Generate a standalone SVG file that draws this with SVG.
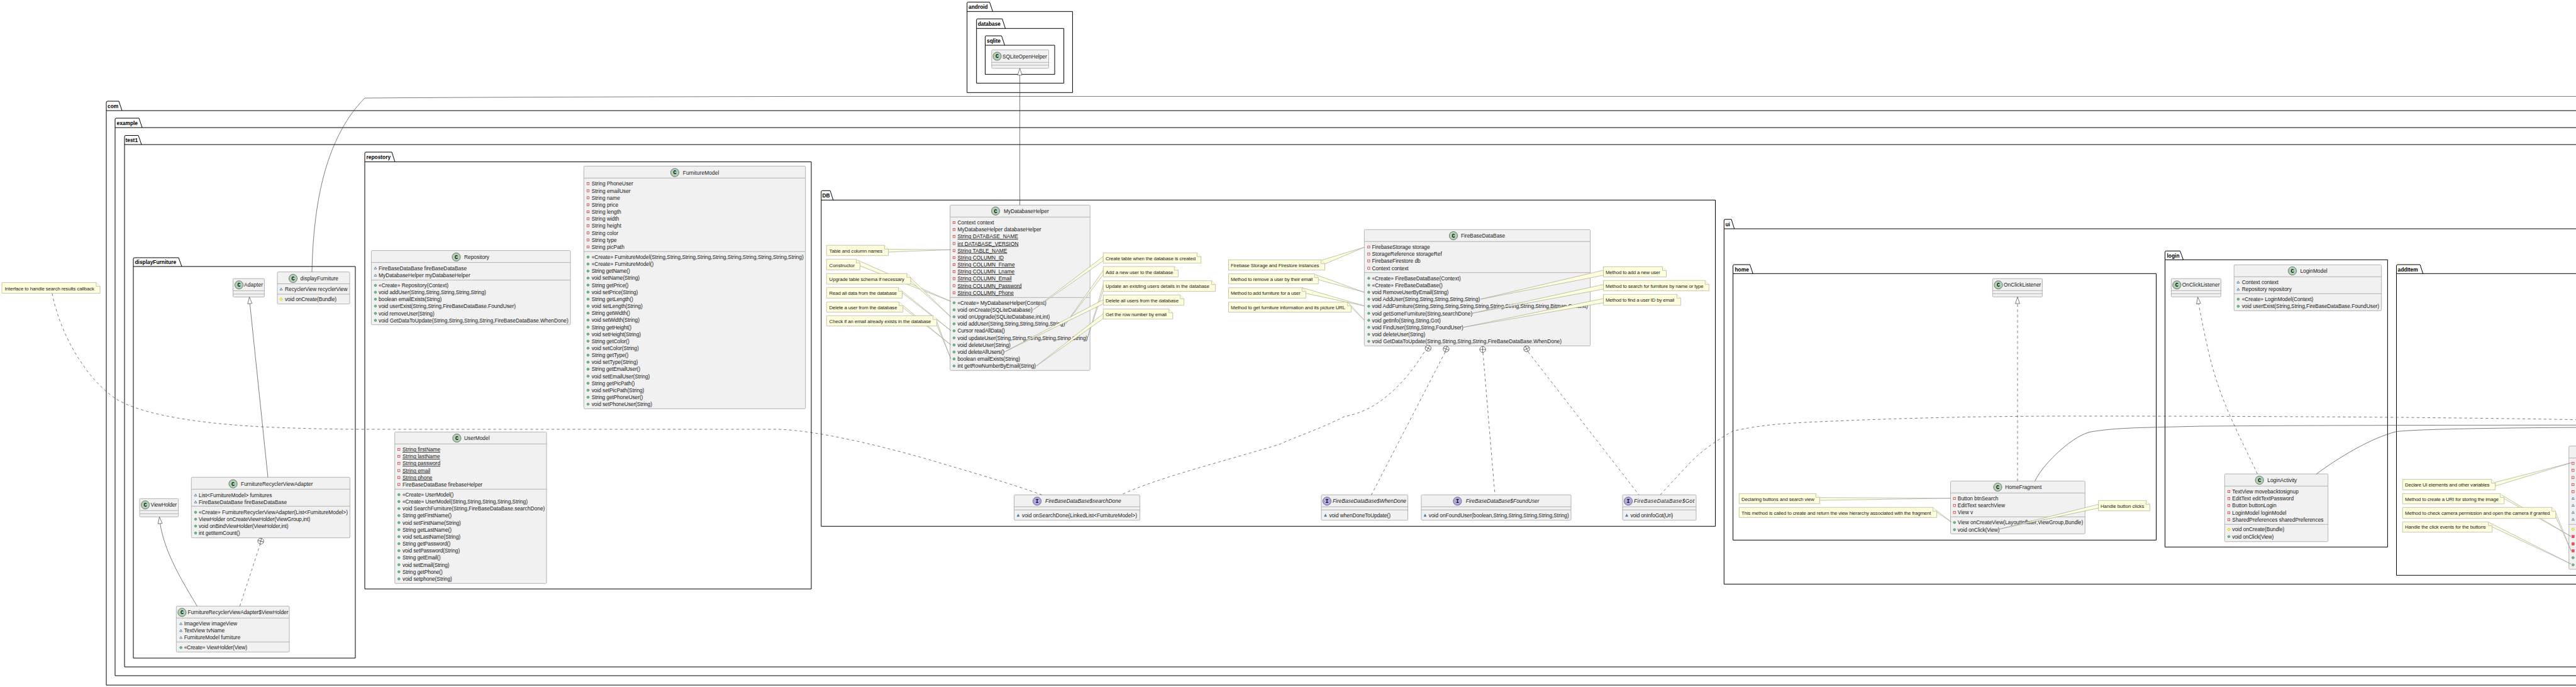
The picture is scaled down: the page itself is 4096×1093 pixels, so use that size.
<svg xmlns="http://www.w3.org/2000/svg" width="4096" height="1093" viewBox="0 0 4096 1093">
<style>
text{font-family:"Liberation Sans",Arial,sans-serif;font-size:8.4px;fill:#181818}
.b{font-weight:bold;fill:#000}
.i{font-style:italic}
.u{text-decoration:underline}
.nt{font-size:7.8px}
.pk{fill:none;stroke:#000;stroke-width:1}
.box{fill:#F1F1F1;stroke:#ABABAB;stroke-width:.9}
.div{fill:none;stroke:#ABABAB;stroke-width:.9}
.note{fill:#FEFFDD;stroke:#B5B5A5;stroke-width:.8}
.wedge{fill:#FEFFDD;stroke:#8E8E80;stroke-width:.55;stroke-linejoin:bevel}
.ln{fill:none;stroke:#333;stroke-width:.65}
.ds{fill:none;stroke:#333;stroke-width:.65;stroke-dasharray:4.2 4.2}
.hd{fill:#fff;stroke:#333;stroke-width:.65}
.cc{fill:#ADD1B2;stroke:#333;stroke-width:.6}
.ci{fill:#B4A7E5;stroke:#333;stroke-width:.6}
.ct{font-family:"Liberation Mono",monospace;font-weight:bold;font-size:8.4px;text-anchor:middle;fill:#000}
</style>
<defs>
<rect id="pf" x="-1.7" y="-1.7" width="3.4" height="3.4" fill="none" stroke="#C82930" stroke-width=".7"/>
<rect id="pm" x="-2" y="-2" width="4" height="4" fill="#F24D5C" stroke="#C82930" stroke-width=".4"/>
<polygon id="pk" points="0,-1.9 2,1.5 -2,1.5" fill="none" stroke="#1963A0" stroke-width=".7"/>
<polygon id="pkm" points="0,-2.2 2,1.7 -2,1.7" fill="#4177AF" stroke="#1963A0" stroke-width=".4"/>
<polygon id="pr" points="0,-2.4 2.4,0 0,2.4 -2.4,0" fill="#FFFF44" stroke="#B38D22" stroke-width=".5"/>
<circle id="pu" r="1.8" fill="#84BE84" stroke="#038048" stroke-width=".6"/>
<g id="nest"><circle r="4.7" class="hd" fill="#fff"/><path d="M-4.7,0H4.7M0,-4.7V4.7" class="ln"/></g>
</defs>
<rect width="4096" height="1093" fill="#fff"/>
<g id="packages">
<g id="pkg-android"><path class="pk" d="M1537.7,18.3V5Q1537.7,3.3 1539.4,3.3H1573.5L1578.5,18.3M1537.7,18.3H1705.4V147.3H1537.7Z"/><text class="b" x="1540" y="14">android</text></g>
<g id="pkg-database"><path class="pk" d="M1552.7,45.3V32Q1552.7,30 1554.4,30H1593.6L1598.6,45.3M1552.7,45.3H1691.6V132.3H1552.7Z"/><text class="b" x="1554.7" y="41">database</text></g>
<g id="pkg-sqlite"><path class="pk" d="M1566.5,72V59Q1566.5,57 1568.2,57H1592.5L1597.5,72M1566.5,72H1677V118.3H1566.5Z"/><text class="b" x="1569" y="68">sqlite</text></g>
<g id="pkg-com"><path class="pk" d="M169,176V163Q169,161 171,161H189L194,176M169,176H4110V1090H169Z"/><text class="b" x="171" y="172">com</text></g>
<g id="pkg-example"><path class="pk" d="M183,203V190Q183,188 185,188H221L226,203M183,203H4110V1075H183Z"/><text class="b" x="185.5" y="199">example</text></g>
<g id="pkg-test"><path class="pk" d="M198,230V217.5Q198,215.5 200,215.5H220L225,230M198,230H4110V1061H198Z"/><text class="b" x="199.5" y="226">test1</text></g>
<g id="pkg-displayFurniture"><path class="pk" d="M212,424V412Q212,410 214,410H284L289,424M212,424H565V1047H212Z"/><text class="b" x="214.5" y="420">displayFurniture</text></g>
<g id="pkg-repostory"><path class="pk" d="M580,257.5V244Q580,242 582,242H623L628,257.5M580,257.5H1290V937H580Z"/><text class="b" x="582.5" y="253">repostory</text></g>
<g id="pkg-DB"><path class="pk" d="M1305.8,318.3V305Q1305.8,303.3 1307.5,303.3H1320L1324.8,318.3M1305.8,318.3H2727.5V837.3H1305.8Z"/><text class="b" x="1307.5" y="314">DB</text></g>
<g id="pkg-ui"><path class="pk" d="M2741.3,364V351Q2741.3,349 2743,349H2753L2757.7,364M2741.3,364H4110V929.3H2741.3Z"/><text class="b" x="2743.5" y="360">ui</text></g>
<g id="pkg-home"><path class="pk" d="M2755.6,435.3V423Q2755.6,421 2757.5,421H2782.5L2787.2,435.3M2755.6,435.3H3428.5V859.3H2755.6Z"/><text class="b" x="2758.5" y="432">home</text></g>
<g id="pkg-login"><path class="pk" d="M3442.5,413.3V401Q3442.5,399.3 3444.5,399.3H3466.5L3471.5,413.3M3442.5,413.3H3796.4V870.3H3442.5Z"/><text class="b" x="3445.5" y="410">login</text></g>
<g id="pkg-addItem"><path class="pk" d="M3810.5,435.3V423Q3810.5,421 3812.5,421H3848L3852.7,435.3M3810.5,435.3H4110V915.3H3810.5Z"/><text class="b" x="3812.5" y="432">addItem</text></g>
</g>

<g id="node-SQLiteOpenHelper"><rect class="box" x="1576.8" y="79.3" width="90.7" height="29.4" rx="1.5"/><path class="div" d="M1576.8,99.3H1667.5M1576.8,103.7H1667.5"/><circle class="cc" cx="1585.5" cy="89.5" r="6.6"/><text class="ct" x="1585.5" y="92.3">C</text><text x="1594" y="92.5">SQLiteOpenHelper</text></g>

<g id="node-displayFurniture"><rect class="box" x="441" y="432.6" width="115" height="51" rx="1.5"/><path class="div" d="M441,451.5H556M441,468H556"/><circle class="cc" cx="466" cy="443" r="6.6"/><text class="ct" x="466" y="445.8">C</text><text x="477.6" y="445.5" textLength="60.4">displayFurniture</text><use href="#pk" x="447" y="460"/><text x="453" y="463" textLength="99.5">RecyclerView recyclerView</text><use href="#pr" x="447" y="476"/><text x="453" y="479" textLength="82">void onCreate(Bundle)</text></g>

<g id="node-Adapter"><rect class="box" x="370.6" y="443.3" width="49.8" height="29.2" rx="1.5"/><path class="div" d="M370.6,462.6H420.4M370.6,467.8H420.4"/><circle class="cc" cx="380" cy="453.3" r="6.6"/><text class="ct" x="380" y="456.1">C</text><text x="388" y="456.3" textLength="30">Adapter</text></g>

<g id="node-FurnitureRecyclerViewAdapter"><rect class="box" x="304.3" y="759.3" width="252.1" height="96.4" rx="1.5"/><path class="div" d="M304.3,778.3H556.4M304.3,805.3H556.4"/><circle class="cc" cx="370.6" cy="769.7" r="6.6"/><text class="ct" x="370.6" y="772.5">C</text><text x="383" y="772.7" textLength="114.5">FurnitureRecyclerViewAdapter</text><use href="#pk" x="311" y="787.7"/><text x="316" y="790.7">List&lt;FurnitureModel&gt; furnitures</text><use href="#pk" x="311" y="798.7"/><text x="316" y="801.7">FireBaseDataBase fireBaseDataBase</text><use href="#pu" x="311" y="815"/><text x="316" y="818" textLength="237">«Create» FurnitureRecyclerViewAdapter(List&lt;FurnitureModel&gt;)</text><use href="#pu" x="311" y="826"/><text x="316" y="829" textLength="177.4">ViewHolder onCreateViewHolder(ViewGroup,int)</text><use href="#pu" x="311" y="837"/><text x="316" y="840" textLength="142.6">void onBindViewHolder(ViewHolder,int)</text><use href="#pu" x="311" y="848"/><text x="316" y="851" textLength="65.5">int getItemCount()</text></g>

<g id="node-ViewHolder"><rect class="box" x="222" y="793.3" width="61.6" height="29" rx="1.5"/><path class="div" d="M222,812.3H283.6M222,817.3H283.6"/><circle class="cc" cx="231" cy="803.3" r="6.6"/><text class="ct" x="231" y="806.1">C</text><text x="239.6" y="806.3" textLength="41.4">ViewHolder</text></g>

<g id="node-FurnitureRecyclerViewAdapter-ViewHolder"><rect class="box" x="280.3" y="964.3" width="179.7" height="73" rx="1.5"/><path class="div" d="M280.3,983.3H460M280.3,1021.3H460"/><circle class="cc" cx="289.4" cy="974.3" r="6.6"/><text class="ct" x="289.4" y="977.1">C</text><text x="298.5" y="977.3" textLength="160">FurnitureRecyclerViewAdapter$ViewHolder</text><use href="#pk" x="287.7" y="992.3"/><text x="292.7" y="995.3">ImageView imageView</text><use href="#pk" x="287.7" y="1003.3"/><text x="292.7" y="1006.3">TextView tvName</text><use href="#pk" x="287.7" y="1014.3"/><text x="292.7" y="1017.3">FurnitureModel furniture</text><use href="#pu" x="287.7" y="1030.3"/><text x="292.7" y="1033.3" textLength="100.3">«Create» ViewHolder(View)</text></g>

<g id="node-Repository"><rect class="box" x="590.4" y="398.6" width="316.6" height="118" rx="1.5"/><path class="div" d="M590.4,417.6H907M590.4,445.6H907"/><circle class="cc" cx="725.5" cy="408.9" r="6.6"/><text class="ct" x="725.5" y="411.7">C</text><text x="738" y="411.9">Repository</text><use href="#pk" x="597" y="426.6"/><text x="602" y="429.6">FireBaseDataBase fireBaseDataBase</text><use href="#pk" x="597" y="438"/><text x="602" y="441">MyDatabaseHelper myDatabaseHelper</text><use href="#pu" x="597" y="454"/><text x="602" y="457" textLength="111">«Create» Repository(Context)</text><use href="#pu" x="597" y="465"/><text x="602" y="468" textLength="170.8">void addUser(String,String,String,String,String)</text><use href="#pu" x="597" y="476"/><text x="602" y="479" textLength="100.3">boolean emailExists(String)</text><use href="#pu" x="597" y="487"/><text x="602" y="490" textLength="218">void userExist(String,String,FireBaseDataBase.FoundUser)</text><use href="#pu" x="597" y="498.6"/><text x="602" y="501.6" textLength="88.7">void removeUser(String)</text><use href="#pu" x="597" y="509.7"/><text x="602" y="512.7" textLength="301.8">void GetDataToUpdate(String,String,String,String,FireBaseDataBase.WhenDone)</text></g>

<g id="node-FurnitureModel"><rect class="box" x="928.3" y="264.3" width="352.4" height="386" rx="1.5"/><path class="div" d="M928.3,283.3H1280.7M928.3,400.3H1280.7"/><circle class="cc" cx="1073" cy="274.5" r="6.6"/><text class="ct" x="1073" y="277.3">C</text><text x="1085.7" y="277.5" textLength="57.7">FurnitureModel</text>
<use href="#pf" x="935" y="292.3"/><text x="940.7" y="295.3">String PhoneUser</text>
<use href="#pf" x="935" y="303.5"/><text x="940.7" y="306.5">String emailUser</text>
<use href="#pf" x="935" y="314.6"/><text x="940.7" y="317.6">String name</text>
<use href="#pf" x="935" y="325.8"/><text x="940.7" y="328.8">String price</text>
<use href="#pf" x="935" y="337"/><text x="940.7" y="340">String length</text>
<use href="#pf" x="935" y="348.2"/><text x="940.7" y="351.2">String width</text>
<use href="#pf" x="935" y="359.3"/><text x="940.7" y="362.3">String height</text>
<use href="#pf" x="935" y="370.5"/><text x="940.7" y="373.5">String color</text>
<use href="#pf" x="935" y="381.7"/><text x="940.7" y="384.7">String type</text>
<use href="#pf" x="935" y="392.9"/><text x="940.7" y="395.9">String picPath</text>
<use href="#pu" x="935" y="409"/><text x="940.7" y="412" textLength="337">«Create» FurnitureModel(String,String,String,String,String,String,String,String,String,String)</text>
<use href="#pu" x="935" y="420.1"/><text x="940.7" y="423.1" textLength="98.7">«Create» FurnitureModel()</text>
<use href="#pu" x="935" y="431.3"/><text x="940.7" y="434.3" textLength="61">String getName()</text>
<use href="#pu" x="935" y="442.4"/><text x="940.7" y="445.4" textLength="76.3">void setName(String)</text>
<use href="#pu" x="935" y="453.6"/><text x="940.7" y="456.6" textLength="58.7">String getPrice()</text>
<use href="#pu" x="935" y="464.7"/><text x="940.7" y="467.7" textLength="73.7">void setPrice(String)</text>
<use href="#pu" x="935" y="475.9"/><text x="940.7" y="478.9" textLength="66">String getLength()</text>
<use href="#pu" x="935" y="487"/><text x="940.7" y="490" textLength="81">void setLength(String)</text>
<use href="#pu" x="935" y="498.2"/><text x="940.7" y="501.2" textLength="61">String getWidth()</text>
<use href="#pu" x="935" y="509.3"/><text x="940.7" y="512.3" textLength="76.3">void setWidth(String)</text>
<use href="#pu" x="935" y="520.5"/><text x="940.7" y="523.5" textLength="63.3">String getHeight()</text>
<use href="#pu" x="935" y="531.6"/><text x="940.7" y="534.6" textLength="78.3">void setHeight(String)</text>
<use href="#pu" x="935" y="542.8"/><text x="940.7" y="545.8" textLength="60">String getColor()</text>
<use href="#pu" x="935" y="553.9"/><text x="940.7" y="556.9" textLength="75">void setColor(String)</text>
<use href="#pu" x="935" y="565.1"/><text x="940.7" y="568.1" textLength="58.7">String getType()</text>
<use href="#pu" x="935" y="576.2"/><text x="940.7" y="579.2" textLength="73.7">void setType(String)</text>
<use href="#pu" x="935" y="587.4"/><text x="940.7" y="590.4" textLength="77.3">String getEmailUser()</text>
<use href="#pu" x="935" y="598.5"/><text x="940.7" y="601.5" textLength="92.7">void setEmailUser(String)</text>
<use href="#pu" x="935" y="609.7"/><text x="940.7" y="612.7" textLength="68.7">String getPicPath()</text>
<use href="#pu" x="935" y="620.8"/><text x="940.7" y="623.8" textLength="83.7">void setPicPath(String)</text>
<use href="#pu" x="935" y="632"/><text x="940.7" y="635" textLength="81.7">String getPhoneUser()</text>
<use href="#pu" x="935" y="643.1"/><text x="940.7" y="646.1" textLength="96.3">void setPhoneUser(String)</text></g>

<g id="node-UserModel"><rect class="box" x="627.7" y="687.3" width="241.3" height="241" rx="1.5"/><path class="div" d="M627.7,706.3H869M627.7,778.3H869"/><circle class="cc" cx="726.4" cy="697" r="6.6"/><text class="ct" x="726.4" y="699.8">C</text><text x="738" y="700">UserModel</text>
<use href="#pf" x="634.3" y="715"/><text class="u" x="640" y="718">String firstName</text>
<use href="#pf" x="634.3" y="726"/><text class="u" x="640" y="729">String lastName</text>
<use href="#pf" x="634.3" y="737.3"/><text class="u" x="640" y="740.3">String password</text>
<use href="#pf" x="634.3" y="748.7"/><text class="u" x="640" y="751.7">String email</text>
<use href="#pf" x="634.3" y="759.7"/><text class="u" x="640" y="762.7">String phone</text>
<use href="#pf" x="634.3" y="770.7"/><text x="640" y="773.7">FireBaseDataBase firebaseHelper</text>
<use href="#pu" x="634.3" y="787"/><text x="640" y="790" textLength="81.3">«Create» UserModel()</text>
<use href="#pu" x="634.3" y="798"/><text x="640" y="801" textLength="199">«Create» UserModel(String,String,String,String,String)</text>
<use href="#pu" x="634.3" y="809.2"/><text x="640" y="812.2" textLength="226.4">void SearchFurniture(String,FireBaseDataBase.searchDone)</text>
<use href="#pu" x="634.3" y="820.3"/><text x="640" y="823.3" textLength="78">String getFirstName()</text>
<use href="#pu" x="634.3" y="831.5"/><text x="640" y="834.5" textLength="92.9">void setFirstName(String)</text>
<use href="#pu" x="634.3" y="842.7"/><text x="640" y="845.7" textLength="78">String getLastName()</text>
<use href="#pu" x="634.3" y="853.8"/><text x="640" y="856.8" textLength="92">void setLastName(String)</text>
<use href="#pu" x="634.3" y="865"/><text x="640" y="868" textLength="76.3">String getPassword()</text>
<use href="#pu" x="634.3" y="876.2"/><text x="640" y="879.2" textLength="91.2">void setPassword(String)</text>
<use href="#pu" x="634.3" y="887.3"/><text x="640" y="890.3" textLength="60.5">String getEmail()</text>
<use href="#pu" x="634.3" y="898.5"/><text x="640" y="901.5" textLength="74.6">void setEmail(String)</text>
<use href="#pu" x="634.3" y="909.7"/><text x="640" y="912.7" textLength="63.8">String getPhone()</text>
<use href="#pu" x="634.3" y="921"/><text x="640" y="924" textLength="78.8">void setphone(String)</text></g>

<g id="node-MyDatabaseHelper"><rect class="box" x="1510.7" y="326.3" width="222.5" height="263" rx="1.5"/><path class="div" d="M1510.7,345.3H1733.2M1510.7,473.3H1733.2"/><circle class="cc" cx="1583" cy="335.7" r="6.6"/><text class="ct" x="1583" y="338.5">C</text><text x="1596" y="338.7">MyDatabaseHelper</text>
<use href="#pf" x="1517" y="354"/><text x="1522.5" y="357">Context context</text>
<use href="#pf" x="1517" y="365.2"/><text x="1522.5" y="368.2">MyDatabaseHelper databaseHelper</text>
<use href="#pf" x="1517" y="376.3"/><text class="u" x="1522.5" y="379.3">String DATABASE_NAME</text>
<use href="#pf" x="1517" y="387.5"/><text class="u" x="1522.5" y="390.5">int DATABASE_VERSION</text>
<use href="#pf" x="1517" y="398.7"/><text class="u" x="1522.5" y="401.7">String TABLE_NAME</text>
<use href="#pf" x="1517" y="409.9"/><text class="u" x="1522.5" y="412.9">String COLUMN_ID</text>
<use href="#pf" x="1517" y="421"/><text class="u" x="1522.5" y="424">String COLUMN_Fname</text>
<use href="#pf" x="1517" y="432.2"/><text class="u" x="1522.5" y="435.2">String COLUMN_Lname</text>
<use href="#pf" x="1517" y="443.4"/><text class="u" x="1522.5" y="446.4">String COLUMN_Email</text>
<use href="#pf" x="1517" y="454.5"/><text class="u" x="1522.5" y="457.5">String COLUMN_Password</text>
<use href="#pf" x="1517" y="465.7"/><text class="u" x="1522.5" y="468.7">String COLUMN_Phone</text>
<use href="#pu" x="1517" y="481.7"/><text x="1522.5" y="484.7" textLength="141.4">«Create» MyDatabaseHelper(Context)</text>
<use href="#pu" x="1517" y="492.9"/><text x="1522.5" y="495.9" textLength="119.3">void onCreate(SQLiteDatabase)</text>
<use href="#pu" x="1517" y="504.1"/><text x="1522.5" y="507.1" textLength="146.8">void onUpgrade(SQLiteDatabase,int,int)</text>
<use href="#pu" x="1517" y="515.3"/><text x="1522.5" y="518.3" textLength="171">void addUser(String,String,String,String,String)</text>
<use href="#pu" x="1517" y="526.4"/><text x="1522.5" y="529.4" textLength="75.4">Cursor readAllData()</text>
<use href="#pu" x="1517" y="537.6"/><text x="1522.5" y="540.6" textLength="206.8">void updateUser(String,String,String,String,String,String)</text>
<use href="#pu" x="1517" y="548.8"/><text x="1522.5" y="551.8" textLength="84.3">void deleteUser(String)</text>
<use href="#pu" x="1517" y="560"/><text x="1522.5" y="563" textLength="74.6">void deleteAllUsers()</text>
<use href="#pu" x="1517" y="571.1"/><text x="1522.5" y="574.1" textLength="99.6">boolean emailExists(String)</text>
<use href="#pu" x="1517" y="582.3"/><text x="1522.5" y="585.3" textLength="124.6">int getRowNumberByEmail(String)</text></g>

<g id="node-FireBaseDataBase"><rect class="box" x="2169.3" y="365.3" width="359.2" height="185" rx="1.5"/><path class="div" d="M2169.3,384.3H2528.5M2169.3,433.7H2528.5"/><circle class="cc" cx="2311" cy="375" r="6.6"/><text class="ct" x="2311" y="377.8">C</text><text x="2322.9" y="378">FireBaseDataBase</text>
<use href="#pf" x="2176.4" y="393"/><text x="2181.5" y="396">FirebaseStorage storage</text>
<use href="#pf" x="2176.4" y="404.3"/><text x="2181.5" y="407.3">StorageReference storageRef</text>
<use href="#pf" x="2176.4" y="415.3"/><text x="2181.5" y="418.3">FirebaseFirestore db</text>
<use href="#pf" x="2176.4" y="426.7"/><text x="2181.5" y="429.7">Context context</text>
<use href="#pu" x="2176.4" y="442.7"/><text x="2181.5" y="445.7" textLength="141.3">«Create» FireBaseDataBase(Context)</text>
<use href="#pu" x="2176.4" y="453.7"/><text x="2181.5" y="456.7" textLength="112.2">«Create» FireBaseDataBase()</text>
<use href="#pu" x="2176.4" y="465"/><text x="2181.5" y="468" textLength="121.9">void RemoveUserByEmail(String)</text>
<use href="#pu" x="2176.4" y="476.1"/><text x="2181.5" y="479.1" textLength="171.9">void AddUser(String,String,String,String,String)</text>
<use href="#pu" x="2176.4" y="487.3"/><text x="2181.5" y="490.3" textLength="343.4">void AddFurniture(String,String,String,String,String,String,String,String,String,Bitmap,Context)</text>
<use href="#pu" x="2176.4" y="498.5"/><text x="2181.5" y="501.5" textLength="159.7">void getSomeFurniture(String,searchDone)</text>
<use href="#pu" x="2176.4" y="509.6"/><text x="2181.5" y="512.6" textLength="109.2">void getInfo(String,String,Got)</text>
<use href="#pu" x="2176.4" y="520.8"/><text x="2181.5" y="523.8" textLength="145.4">void FindUser(String,String,FoundUser)</text>
<use href="#pu" x="2176.4" y="532"/><text x="2181.5" y="535" textLength="84.7">void deleteUser(String)</text>
<use href="#pu" x="2176.4" y="543.1"/><text x="2181.5" y="546.1" textLength="301.5">void GetDataToUpdate(String,String,String,String,FireBaseDataBase.WhenDone)</text></g>

<g id="node-searchDone"><rect class="box" x="1612.6" y="787.3" width="199.8" height="40.4" rx="1.5"/><path class="div" d="M1612.6,806.3H1812.4M1612.6,811.3H1812.4"/><circle class="ci" cx="1649" cy="797.3" r="6.6"/><text class="ct" x="1649" y="800.1">I</text><text class="i" x="1662" y="800.3" textLength="120.6">FireBaseDataBase$searchDone</text><use href="#pkm" x="1619" y="820"/><text x="1625" y="823" textLength="183">void onSearchDone(LinkedList&lt;FurnitureModel&gt;)</text></g>
<g id="node-WhenDone"><rect class="box" x="2101" y="787.3" width="137.6" height="40.4" rx="1.5"/><path class="div" d="M2101,806.3H2238.6M2101,811.3H2238.6"/><circle class="ci" cx="2110" cy="797.3" r="6.6"/><text class="ct" x="2110" y="800.1">I</text><text class="i" x="2119" y="800.3" textLength="117">FireBaseDataBase$WhenDone</text><use href="#pkm" x="2107.6" y="820"/><text x="2113.4" y="823" textLength="97.6">void whenDoneToUpdate()</text></g>
<g id="node-FoundUser"><rect class="box" x="2260" y="787.3" width="238" height="40.4" rx="1.5"/><path class="div" d="M2260,806.3H2498M2260,811.3H2498"/><circle class="ci" cx="2317.4" cy="797.3" r="6.6"/><text class="ct" x="2317.4" y="800.1">I</text><text class="i" x="2330.7" y="800.3" textLength="116.9">FireBaseDataBase$FoundUser</text><use href="#pkm" x="2266" y="820"/><text x="2271.8" y="823" textLength="223">void onFoundUser(boolean,String,String,String,String,String)</text></g>
<g id="node-Got"><rect class="box" x="2580" y="787.3" width="117" height="40.4" rx="1.5"/><path class="div" d="M2580,806.3H2697M2580,811.3H2697"/><circle class="ci" cx="2589" cy="797.3" r="6.6"/><text class="ct" x="2589" y="800.1">I</text><text class="i" x="2598" y="800.3" textLength="96">FireBaseDataBase$Got</text><use href="#pkm" x="2586.6" y="820"/><text x="2592.4" y="823" textLength="68">void onInfoGot(Uri)</text></g>

<g id="node-OnClickListener-home"><rect class="box" x="3168.4" y="443.3" width="79" height="29" rx="1.5"/><path class="div" d="M3168.4,462.3H3247.4M3168.4,467.3H3247.4"/><circle class="cc" cx="3177.5" cy="453.3" r="6.6"/><text class="ct" x="3177.5" y="456.1">C</text><text x="3186" y="456.3" textLength="59.4">OnClickListener</text></g>
<g id="node-HomeFragment"><rect class="box" x="3101.5" y="765.3" width="213.8" height="84" rx="1.5"/><path class="div" d="M3101.5,784.3H3315.3M3101.5,822.3H3315.3"/><circle class="cc" cx="3176.5" cy="775" r="6.6"/><text class="ct" x="3176.5" y="777.8">C</text><text x="3188.3" y="778" textLength="58">HomeFragment</text><use href="#pf" x="3107.7" y="793"/><text x="3112.8" y="796">Button btnSearch</text><use href="#pf" x="3107.7" y="804.3"/><text x="3112.8" y="807.3">EditText searchView</text><use href="#pf" x="3107.7" y="815.3"/><text x="3112.8" y="818.3">View v</text><use href="#pu" x="3107.7" y="831.3"/><text x="3112.8" y="834.3" textLength="199.5">View onCreateView(LayoutInflater,ViewGroup,Bundle)</text><use href="#pu" x="3107.7" y="842.7"/><text x="3112.8" y="845.7" textLength="66.8">void onClick(View)</text></g>
<g id="node-OnClickListener-login"><rect class="box" x="3452.4" y="443.3" width="79" height="29" rx="1.5"/><path class="div" d="M3452.4,462.3H3531.4M3452.4,467.3H3531.4"/><circle class="cc" cx="3461.3" cy="453.3" r="6.6"/><text class="ct" x="3461.3" y="456.1">C</text><text x="3469.7" y="456.3" textLength="59.9">OnClickListener</text></g>
<g id="node-LoginModel"><rect class="box" x="3552.2" y="421.3" width="234.4" height="73" rx="1.5"/><path class="div" d="M3552.2,440.3H3786.6M3552.2,467.3H3786.6"/><circle class="cc" cx="3645" cy="431" r="6.6"/><text class="ct" x="3645" y="433.8">C</text><text x="3657.4" y="434">LoginModel</text><use href="#pk" x="3558.9" y="449"/><text x="3564.7" y="452">Context context</text><use href="#pk" x="3558.9" y="460.3"/><text x="3564.7" y="463.3">Repository repository</text><use href="#pu" x="3558.9" y="476"/><text x="3564.7" y="479" textLength="113.6">«Create» LoginModel(Context)</text><use href="#pu" x="3558.9" y="487.3"/><text x="3564.7" y="490.3" textLength="218.4">void userExist(String,String,FireBaseDataBase.FoundUser)</text></g>
<g id="node-LoginActivity"><rect class="box" x="3537.3" y="754" width="164.4" height="107.7" rx="1.5"/><path class="div" d="M3537.3,773.3H3701.7M3537.3,834.3H3701.7"/><circle class="cc" cx="3592.7" cy="764" r="6.6"/><text class="ct" x="3592.7" y="766.8">C</text><text x="3605.3" y="767">LoginActivity</text><use href="#pf" x="3544" y="782"/><text x="3549.3" y="785">TextView movebacktosignup</text><use href="#pf" x="3544" y="793.3"/><text x="3549.3" y="796.3">EditText editTextPassword</text><use href="#pf" x="3544" y="804.3"/><text x="3549.3" y="807.3">Button buttonLogin</text><use href="#pf" x="3544" y="815.7"/><text x="3549.3" y="818.7">LoginModel loginModel</text><use href="#pf" x="3544" y="826.7"/><text x="3549.3" y="829.7">SharedPreferences sharedPreferences</text><use href="#pr" x="3544" y="842.3"/><text x="3549.3" y="845.3" textLength="83">void onCreate(Bundle)</text><use href="#pu" x="3544" y="853.7"/><text x="3549.3" y="856.7" textLength="66">void onClick(View)</text></g>
<g id="node-AddItem-partial"><rect class="box" x="4084.7" y="709.7" width="30" height="196" rx="1.5"/><path class="div" d="M4084.7,728.7H4115M4084.7,834.3H4115"/><use href="#pf" x="4091.3" y="737.3"/><use href="#pf" x="4091.3" y="748.3"/><use href="#pf" x="4091.3" y="759.7"/><use href="#pf" x="4091.3" y="771"/><use href="#pf" x="4091.3" y="782.3"/><use href="#pk" x="4091.3" y="793"/><use href="#pk" x="4091.3" y="804"/><use href="#pk" x="4091.3" y="815.3"/><use href="#pk" x="4091.3" y="826.3"/><use href="#pr" x="4091.3" y="842"/><use href="#pm" x="4091.3" y="853.7"/><use href="#pm" x="4091.3" y="865.3"/><use href="#pm" x="4091.3" y="876.3"/><use href="#pu" x="4091.3" y="887.3"/><use href="#pu" x="4091.3" y="898.7"/></g>

<g id="connectors">
<path class="ln" d="M1621.6,326.3V119"/><polygon class="hd" points="1621.6,108.7 1625,119.4 1618.2,119.4"/>
<path class="ln" d="M496,432.6C498,340 512,225 580,156C800,154.5 1000,154 1300,153.4H4096"/>
<path class="ln" d="M426,759.3L397.3,483"/><polygon class="hd" points="396.6,472.5 400.7,482.8 393.8,483.4"/>
<path class="ln" d="M313.4,964.3C290,925 262,880 254.6,833"/><polygon class="hd" points="253.5,822.3 258,832.5 251.2,833.4"/>
<path class="ds" d="M381.4,964.3L413.6,866"/><use href="#nest" transform="translate(414.6,861) rotate(15)"/>
<path class="ds" d="M83,467C95,530 135,600 182,633C215,655 290,672 415,679C480,682 540,683 580,683L1240,683C1300,686 1383,705 1466,728C1540,750 1610,770 1656.5,787.3"/>
<path class="ds" d="M2264.7,560C2240,600 2215,625 2188,643C2165,657 2150,660 2137,663C2100,682 2060,695 2035,706.7C1960,730 1840,760 1782.6,787.3"/><use href="#nest" transform="translate(2270.8,554) rotate(30)"/>
<path class="ds" d="M2298,560L2180.6,787.3"/><use href="#nest" transform="translate(2299.4,555.3) rotate(20)"/>
<path class="ds" d="M2358,561L2377,787.3"/><use href="#nest" transform="translate(2357.6,556)"/>
<path class="ds" d="M2430,560L2606,787.3"/><use href="#nest" transform="translate(2427.5,555) rotate(-28)"/>
<path class="ds" d="M2640,787.3C2660,765 2670,755 2683.7,740C2700,722 2725,703 2755,686C2790,678 2820,675 2857,672.7C2950,668 3100,662 3300,662C3600,662 3900,664 4096,667.7"/>
<path class="ds" d="M3208,765.3V483"/><polygon class="hd" points="3208,472.3 3211.4,483 3204.6,483"/>
<path class="ds" d="M3589.3,754C3560,690 3530,640 3511,556.7C3504,525 3500,505 3496,483"/><polygon class="hd" points="3494.5,472.7 3499.3,482.4 3492.7,483.8"/>
<path class="ln" d="M3235.7,765.3C3250,735 3300,690 3326.5,686.7C3370,680 3400,680.7 3500,678C3700,676.7 3900,676.3 4096,676.3"/>
<path class="ln" d="M3683.3,754C3720,727 3770,697 3810,686.7C3840,683 3950,681 4096,680"/>
<polygon class="wedge" points="1412,396.7 1512,397.3 1412,401"/>
<polygon class="wedge" points="1361.4,413 1512,479.5 1367.5,423"/>
<polygon class="wedge" points="1441.4,435.7 1512,504.3 1448,447"/>
<polygon class="wedge" points="1428,458 1512,526 1434.6,466"/>
<polygon class="wedge" points="1429.3,480.7 1512,548.7 1435.7,489.3"/>
<polygon class="wedge" points="1483.6,502.7 1512,571 1489.6,511.7"/>
<polygon class="wedge" points="1754.3,408 1642.5,493 1754.3,415"/>
<polygon class="wedge" points="1754.3,430 1694.3,515.3 1754.3,437"/>
<polygon class="wedge" points="1754.3,453.3 1729.3,537.3 1754.3,461.7"/>
<polygon class="wedge" points="1754.3,476.7 1597,560 1754.3,483.3"/>
<polygon class="wedge" points="1754.3,499 1647.9,582.3 1754.3,506.7"/>
<polygon class="wedge" points="2101.4,414 2169.3,393.3 2106.5,420"/>
<polygon class="wedge" points="2091.2,436.7 2169.3,465 2096.3,445"/>
<polygon class="wedge" points="2070.8,457.7 2169.3,486.7 2076.4,466.7"/>
<polygon class="wedge" points="2143.3,480.7 2169.3,509.3 2148.4,489"/>
<polygon class="wedge" points="2549.5,430 2354,476 2549.5,438"/>
<polygon class="wedge" points="2549.5,452.7 2341.2,498.3 2549.5,460"/>
<polygon class="wedge" points="2549.5,475 2327,520.7 2549.5,481.7"/>
<polygon class="wedge" points="2893.4,791.7 3101.5,792.7 2893.4,796"/>
<polygon class="wedge" points="3073.5,807.7 3103,830.7 3079.6,815"/>
<polygon class="wedge" points="3336.7,802.3 3179.6,841.7 3336.7,808.3"/>
<polygon class="wedge" points="3967.7,767.3 4088.3,736.3 3967.7,773.3"/>
<polygon class="wedge" points="3975.3,786 4088.3,853.7 3981.7,793.3"/>
<polygon class="wedge" points="4057.3,807.3 4088.3,876.7 4063.7,815"/>
<polygon class="wedge" points="3956.7,830.7 4088.3,897.3 3962.7,838.3"/>
</g>

<g id="notes">
<g id="note-search-callback"><path class="note" d="M3,449.6H153L159,455.6V466.6H3Z"/><path class="note" d="M153,449.6V455.6H159"/><text class="nt" x="7.5" y="461.5" textLength="142.5">Interface to handle search results callback</text></g>
<g id="note-table"><path class="note" d="M1314.3,390.3H1406.5L1412.5,396.3V406.7H1314.3Z"/><path class="note" d="M1406.5,390.3V396.3H1412.5"/><text class="nt" x="1318.6" y="402" textLength="84.6">Table and column names</text></g>
<g id="note-ctor"><path class="note" d="M1314.3,412.3H1361.5L1367.5,418.3V429.3H1314.3Z"/><path class="note" d="M1361.5,412.3V418.3H1367.5"/><text class="nt" x="1318.6" y="424.5" textLength="40.4">Constructor</text></g>
<g id="note-upgrade"><path class="note" d="M1314.3,435.3H1442L1448,441.3V452H1314.3Z"/><path class="note" d="M1442,435.3V441.3H1448"/><text class="nt" x="1318.6" y="446.8" textLength="119.3">Upgrade table schema if necessary</text></g>
<g id="note-read"><path class="note" d="M1314.3,457.3H1428.6L1434.6,463.3V474.3H1314.3Z"/><path class="note" d="M1428.6,457.3V463.3H1434.6"/><text class="nt" x="1318.6" y="469" textLength="107.5">Read all data from the database</text></g>
<g id="note-delete"><path class="note" d="M1314.3,480.3H1429.7L1435.7,486.3V496.7H1314.3Z"/><path class="note" d="M1429.7,480.3V486.3H1435.7"/><text class="nt" x="1318.6" y="491.8" textLength="107.9">Delete a user from the database</text></g>
<g id="note-check"><path class="note" d="M1314.3,502.3H1483.6L1489.6,508.3V518.7H1314.3Z"/><path class="note" d="M1483.6,502.3V508.3H1489.6"/><text class="nt" x="1318.6" y="513.8" textLength="161.8">Check if an email already exists in the database</text></g>
<g id="note-create"><path class="note" d="M1754.3,402.3H1903.6L1909.6,408.3V418.7H1754.3Z"/><path class="note" d="M1903.6,402.3V408.3H1909.6"/><text class="nt" x="1758" y="413.5" textLength="143">Create table when the database is created</text></g>
<g id="note-add"><path class="note" d="M1754.3,424H1867.4L1873.4,430V440.7H1754.3Z"/><path class="note" d="M1867.4,424V430H1873.4"/><text class="nt" x="1758" y="436" textLength="107.4">Add a new user to the database</text></g>
<g id="note-update"><path class="note" d="M1754.3,446.7H1926.6L1932.6,452.7V463.7H1754.3Z"/><path class="note" d="M1926.6,446.7V452.7H1932.6"/><text class="nt" x="1758" y="458" textLength="165">Update an existing users details in the database</text></g>
<g id="note-deleteall"><path class="note" d="M1754.3,469.3H1876.6L1882.6,475.3V485.7H1754.3Z"/><path class="note" d="M1876.6,469.3V475.3H1882.6"/><text class="nt" x="1758" y="480.8" textLength="116">Delete all users from the database</text></g>
<g id="note-rownum"><path class="note" d="M1754.3,491.7H1858.7L1864.7,497.7V507.7H1754.3Z"/><path class="note" d="M1858.7,491.7V497.7H1864.7"/><text class="nt" x="1758" y="503" textLength="97">Get the row number by email</text></g>
<g id="note-fb-storage"><path class="note" d="M1953.5,413.3H2100.5L2106.5,419.3V429.7H1953.5Z"/><path class="note" d="M2100.5,413.3V419.3H2106.5"/><text class="nt" x="1957" y="424.7" textLength="140.3">Firebase Storage and Firestore instances</text></g>
<g id="note-fb-remove"><path class="note" d="M1953.5,435.7H2090.3L2096.3,441.7V451.7H1953.5Z"/><path class="note" d="M2090.3,435.7V441.7H2096.3"/><text class="nt" x="1957" y="447" textLength="130.2">Method to remove a user by their email</text></g>
<g id="note-fb-addf"><path class="note" d="M1953.5,457.7H2070.4L2076.4,463.7V474.3H1953.5Z"/><path class="note" d="M2070.4,457.7V463.7H2076.4"/><text class="nt" x="1957" y="469.4" textLength="110.8">Method to add furniture for a user</text></g>
<g id="note-fb-info"><path class="note" d="M1953.5,480.7H2142.4L2148.4,486.7V496.7H1953.5Z"/><path class="note" d="M2142.4,480.7V486.7H2148.4"/><text class="nt" x="1957" y="491.7" textLength="182.2">Method to get furniture information and its picture URL</text></g>
<g id="note-fb-adduser"><path class="note" d="M2549.5,424.3H2643.5L2649.5,430.3V440.7H2549.5Z"/><path class="note" d="M2643.5,424.3V430.3H2649.5"/><text class="nt" x="2553" y="435.7" textLength="86.8">Method to add a new user</text></g>
<g id="note-fb-search"><path class="note" d="M2549.5,446.3H2711.3L2717.3,452.3V462.7H2549.5Z"/><path class="note" d="M2711.3,446.3V452.3H2717.3"/><text class="nt" x="2553" y="458" textLength="155.7">Method to search for furniture by name or type</text></g>
<g id="note-fb-find"><path class="note" d="M2549.5,468.3H2666.4L2672.4,474.3V485.7H2549.5Z"/><path class="note" d="M2666.4,468.3V474.3H2672.4"/><text class="nt" x="2553" y="480.4" textLength="109.2">Method to find a user ID by email</text></g>
<g id="note-home-buttons"><path class="note" d="M2765.3,785.3H2887.4L2893.4,791.3V801.3H2765.3Z"/><path class="note" d="M2887.4,785.3V791.3H2893.4"/><text class="nt" x="2769" y="796.7" textLength="115.8">Declaring buttons and search view</text></g>
<g id="note-home-view"><path class="note" d="M2765.3,807.3H3073.6L3079.6,813.3V823.3H2765.3Z"/><path class="note" d="M3073.6,807.3V813.3H3079.6"/><text class="nt" x="2769" y="819" textLength="301.5">This method is called to create and return the view hierarchy associated with the fragment</text></g>
<g id="note-home-click"><path class="note" d="M3336.7,796.3H3412.4L3418.4,802.3V812.7H3336.7Z"/><path class="note" d="M3412.4,796.3V802.3H3418.4"/><text class="nt" x="3340" y="807.7" textLength="69.4">Handle button clicks</text></g>
<g id="note-add-ui"><path class="note" d="M3820.3,762.7H3961.7L3967.7,768.7V779.3H3820.3Z"/><path class="note" d="M3961.7,762.7V768.7H3967.7"/><text class="nt" x="3824" y="774.4" textLength="134.3">Declare UI elements and other variables</text></g>
<g id="note-add-uri"><path class="note" d="M3820.3,785.3H3975.7L3981.7,791.3V801.7H3820.3Z"/><path class="note" d="M3975.7,785.3V791.3H3981.7"/><text class="nt" x="3824" y="796.7" textLength="149">Method to create a URI for storing the image</text></g>
<g id="note-add-camera"><path class="note" d="M3820.3,807.3H4057.7L4063.7,813.3V824.7H3820.3Z"/><path class="note" d="M4057.7,807.3V813.3H4063.7"/><text class="nt" x="3824" y="819" textLength="230.3">Method to check camera permission and open the camera if granted</text></g>
<g id="note-add-click"><path class="note" d="M3820.3,830.3H3956.7L3962.7,836.3V846.7H3820.3Z"/><path class="note" d="M3956.7,830.3V836.3H3962.7"/><text class="nt" x="3824" y="841.4" textLength="128.7">Handle the click events for the buttons</text></g>
</g>
</svg>
